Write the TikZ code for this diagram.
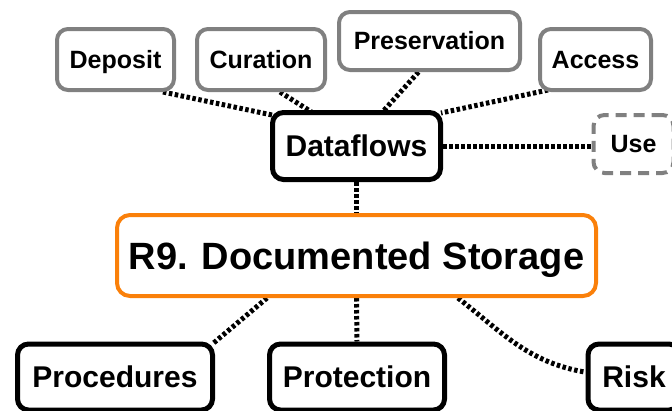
\documentclass[tikz,border=0pt]{standalone}
\usepackage{fontspec}
\setmainfont{Liberation Sans}
\usetikzlibrary{calc}
\pgfdeclarelayer{background}
\pgfsetlayers{background,main}
\definecolor{boxgrey}{RGB}{128,128,128}
\definecolor{hub}{RGB}{250,128,10}
\begin{document}
\begin{tikzpicture}[x=1pt,y=1pt,
  base/.style={rectangle,rounded corners=11pt,fill=white,inner sep=0pt,
    text depth=0pt,text=black,align=center},
  stage/.style={base,draw=boxgrey,line width=4pt,minimum height=61pt,
    text height=17.9pt,font=\fontsize{25}{28}\selectfont\bfseries},
  usebox/.style={stage,dash pattern=on 11pt off 7pt},
  topic/.style={base,draw=black,line width=5pt,minimum height=66pt,
    text height=21.5pt,font=\fontsize{30}{34}\selectfont\bfseries},
  core/.style={base,draw=hub,line width=4pt,rounded corners=13pt,
    minimum width=479pt,minimum height=81pt,
    text height=27.2pt,font=\fontsize{38}{42}\selectfont\bfseries},
  link/.style={draw=black,line width=5pt,dash pattern=on 3.5pt off 2.5pt}]
\useasboundingbox (0,0) rectangle (672,-410);

% box centres
\coordinate (dep-c) at (115.5,-59.5);
\coordinate (cur-c) at (261,-59.5);
\coordinate (pre-c) at (429.5,-41);
\coordinate (acc-c) at (595.5,-59.5);
\coordinate (df-c)  at (356.5,-146);
\coordinate (use-c) at (633.5,-144);
\coordinate (r9-c)  at (356.5,-255.5);
\coordinate (pro-c) at (115,-377);
\coordinate (prt-c) at (357,-377);
\coordinate (rsk-c) at (634,-377);

% nodes
\node[stage,minimum width=117pt] (dep) at (dep-c) {Deposit};
\node[stage,minimum width=128pt] (cur) at (cur-c) {Curation};
\node[stage,minimum width=181pt,minimum height=58pt] (pre) at (pre-c) {Preservation};
\node[stage,minimum width=111pt] (acc) at (acc-c) {Access};
\node[topic,minimum width=168pt,minimum height=67pt] (df) at (df-c) {Dataflows};
\node[usebox,minimum width=80pt,minimum height=58pt] (use) at (use-c) {Use};
\node[core] (r9) at (r9-c) {R9. Documented Storage};
\node[topic,minimum width=195pt] (pro) at (pro-c) {Procedures};
\node[topic,minimum width=175pt] (prt) at (prt-c) {Protection};
\node[topic,minimum width=92pt] (rsk) at (rsk-c) {Risk};

% dotted links, behind the boxes
\begin{pgfonlayer}{background}
  \draw[link] ($(dep.south east)+(-13,0)$) -- ($(df.north west)+(2,-5)$);
  \draw[link] ($(cur.south)+(19,0)$) -- ($(df.north)+(-45,-2)$);
  \draw[link] ($(pre.south)+(-11,0)$) -- ($(df.north)+(26,-2)$);
  \draw[link] ($(acc.south west)+(10,2)$) -- ($(df.north east)+(-2,-3)$);
  \draw[link] (df.east) -- (df.east -| use.west);
  \draw[link] (df.south) -- (r9.north);
  \draw[link] ($(r9.south west)+(152,0)$) -- ($(pro.north east)+(-2,-2)$);
  \draw[link] (r9.south) -- (prt.north);
  \draw[link] ($(r9.south)+(101.5,0)$) to[out=-38,in=170] ($(rsk.west)+(-1,5)$);
\end{pgfonlayer}
\end{tikzpicture}
\end{document}
